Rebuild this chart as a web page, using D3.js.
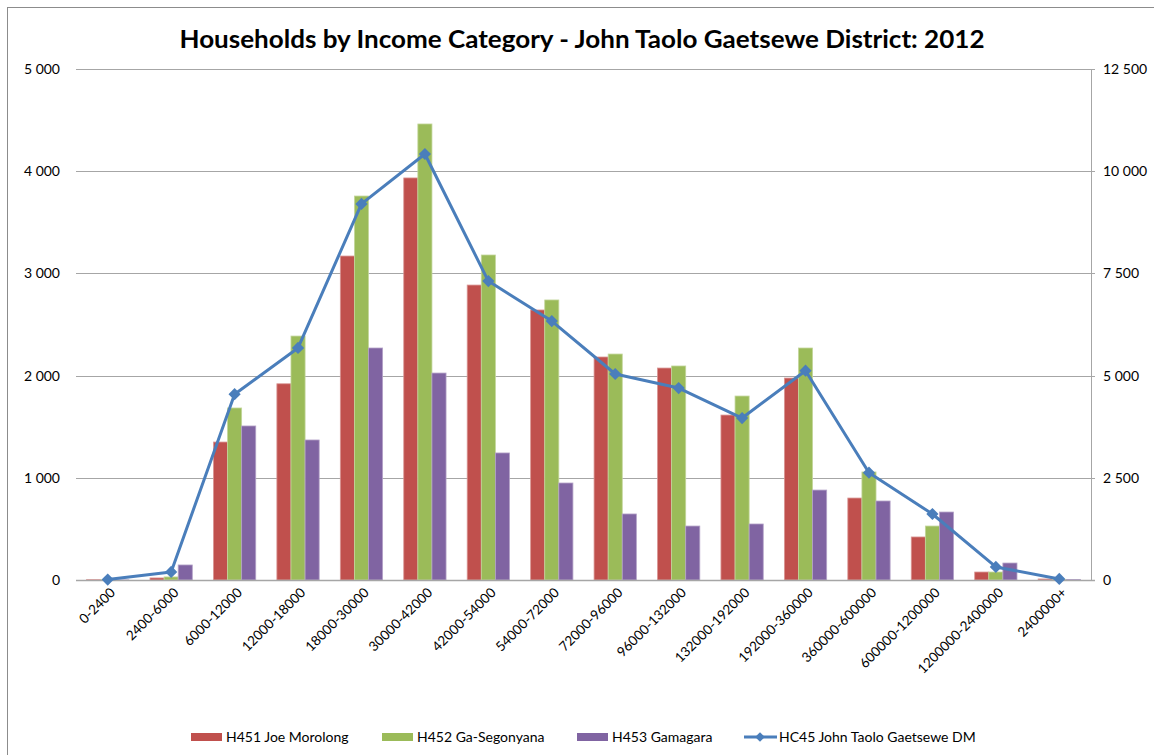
<!DOCTYPE html>
<html>
<head>
<meta charset="utf-8">
<script src="https://cdn.jsdelivr.net/npm/d3@7"></script>
<style>
  body { margin: 0; background: #fff; }
  svg { display: block; }
</style>
</head>
<body>
<div id="chart"></div>
<script>
// chart data
var categories = ['0-2400', '2400-6000', '6000-12000', '12000-18000', '18000-30000',
    '30000-42000', '42000-54000', '54000-72000', '72000-96000', '96000-132000',
    '132000-192000', '192000-360000', '360000-600000', '600000-1200000',
    '1200000-2400000', '2400000+'];

var seriesNames = ['H451 Joe Morolong', 'H452 Ga-Segonyana', 'H453 Gamagara'];
var lineName = 'HC45 John Taolo Gaetsewe DM';

var joeMorolong = [3, 20, 1350, 1920, 3170, 3934, 2886, 2642, 2182, 2074, 1614, 1976, 802, 421, 78, 10];
var gaSegonyana = [2, 30, 1683, 2387, 3757, 4462, 3180, 2740, 2211, 2094, 1800, 2270, 1057, 528, 78, 4];
var gamagara = [1, 147, 1507, 1370, 2270, 2025, 1243, 949, 646, 528, 548, 880, 773, 665, 166, 5];
var districtTotal = [10, 197, 4545, 5677, 9200, 10421, 7312, 6334, 5039, 4696, 3962, 5120, 2625, 1614, 320, 25];

var leftTicks = [0, 1000, 2000, 3000, 4000, 5000];
var rightTicks = [0, 2500, 5000, 7500, 10000, 12500];

var colors = ['#c0504d', '#9bbb59', '#8064a2'];
var edgeColors = ['#d99694', '#c3d69b', '#b3a2c7'];
var lineColor = '#4a7ebb';
var gridColor = '#a6a6a6';
var mainFont = 'Lato, "Open Sans", sans-serif';

var fullWidth = 1154;
var fullHeight = 755;

window.onload = function() {
    render();
};

function fmt(v) {
    // thousands separated by a space, like the reference
    return d3.format(',')(v).replace(/,/g, ' ');
}

function render() {
    var svg = d3.select('#chart').append('svg')
        .attr('width', fullWidth)
        .attr('height', fullHeight);

    // chart border
    svg.append('rect')
        .attr('x', 7.5)
        .attr('y', 7.5)
        .attr('width', 1170)
        .attr('height', 780)
        .attr('fill', 'none')
        .attr('stroke', '#8c8c8c')
        .attr('stroke-width', 1);

    svg.append('text')
        .attr('x', 582)
        .attr('y', 48)
        .attr('text-anchor', 'middle')
        .style('font-family', mainFont)
        .style('font-weight', 'bold')
        .style('font-size', '24px')
        .attr('textLength', 805)
        .attr('lengthAdjust', 'spacingAndGlyphs')
        .text('Households by Income Category - John Taolo Gaetsewe District: 2012');

    var plotLeft = 76, plotRight = 1091, plotTop = 69, plotBottom = 580;

    var x = d3.scaleBand()
        .domain(categories)
        .range([plotLeft, plotRight]);
    var bw = x.bandwidth();
    var gap = bw * 1.5 / 4.5;
    var xInner = d3.scaleBand()
        .domain(seriesNames)
        .range([gap / 2, bw - gap / 2]);

    var yLeft = d3.scaleLinear().domain([0, 5000]).range([plotBottom, plotTop]);
    var yRight = d3.scaleLinear().domain([0, 12500]).range([plotBottom, plotTop]);

    // gridlines
    svg.append('g')
        .selectAll('line')
        .data(leftTicks.slice(1))
        .enter().append('line')
        .attr('x1', plotLeft)
        .attr('x2', plotRight + 4)
        .attr('y1', function(d) { return Math.round(yLeft(d)) + 0.5; })
        .attr('y2', function(d) { return Math.round(yLeft(d)) + 0.5; })
        .attr('stroke', gridColor)
        .attr('stroke-width', 1);

    // left tick labels
    svg.append('g')
        .selectAll('text')
        .data(leftTicks)
        .enter().append('text')
        .attr('x', 60)
        .attr('y', function(d) { return yLeft(d); })
        .attr('dy', '0.35em')
        .attr('text-anchor', 'end')
        .style('font-family', mainFont)
        .style('font-size', '14px')
        .style('fill', '#000')
        .text(fmt);

    // right axis
    svg.append('line')
        .attr('x1', plotRight + 0.5)
        .attr('x2', plotRight + 0.5)
        .attr('y1', plotTop)
        .attr('y2', plotBottom)
        .attr('stroke', gridColor)
        .attr('stroke-width', 1);

    svg.append('g')
        .selectAll('text')
        .data(rightTicks)
        .enter().append('text')
        .attr('x', 1103)
        .attr('y', function(d) { return yRight(d); })
        .attr('dy', '0.35em')
        .attr('text-anchor', 'start')
        .style('font-family', mainFont)
        .style('font-size', '14px')
        .style('fill', '#000')
        .text(fmt);

    // bars
    var seriesData = [joeMorolong, gaSegonyana, gamagara];
    seriesData.forEach(function(values, s) {
        svg.append('g')
            .selectAll('rect')
            .data(values)
            .enter().append('rect')
            .attr('x', function(d, i) { return x(categories[i]) + xInner(seriesNames[s]); })
            .attr('y', function(d) { return yLeft(d); })
            .attr('width', xInner.bandwidth())
            .attr('height', function(d) { return plotBottom - yLeft(d); })
            .attr('fill', colors[s])
            .attr('stroke', edgeColors[s])
            .attr('stroke-width', 0.8);
    });

    // x axis line
    svg.append('line')
        .attr('x1', plotLeft)
        .attr('x2', plotRight + 4)
        .attr('y1', plotBottom + 0.5)
        .attr('y2', plotBottom + 0.5)
        .attr('stroke', gridColor)
        .attr('stroke-width', 1.5);

    // category labels
    svg.append('g')
        .selectAll('text')
        .data(categories)
        .enter().append('text')
        .attr('transform', function(d) {
            return 'translate(' + (x(d) + bw / 2 + 5) + ',' + 590 + ') rotate(-45)';
        })
        .attr('text-anchor', 'end')
        .attr('dy', '0.35em')
        .style('font-family', mainFont)
        .style('font-size', '13.5px')
        .style('fill', '#000')
        .text(function(d) { return d; });

    // district line
    var lineGen = d3.line()
        .x(function(d, i) { return x(categories[i]) + bw / 2; })
        .y(function(d) { return yRight(d); });

    svg.append('path')
        .attr('d', lineGen(districtTotal))
        .attr('fill', 'none')
        .attr('stroke', lineColor)
        .attr('stroke-width', 3)
        .attr('stroke-linejoin', 'round');

    var diamond = d3.symbol().type(d3.symbolDiamond2).size(95);
    svg.append('g')
        .selectAll('path')
        .data(districtTotal)
        .enter().append('path')
        .attr('d', diamond)
        .attr('transform', function(d, i) {
            return 'translate(' + (x(categories[i]) + bw / 2) + ',' + yRight(d) + ')';
        })
        .attr('fill', lineColor);

    makeLegend(svg);
}

function makeLegend(svg) {
    var legendY = 737;
    var items = [
        { name: seriesNames[0], color: colors[0], x: 191, type: 'bar' },
        { name: seriesNames[1], color: colors[1], x: 382, type: 'bar' },
        { name: seriesNames[2], color: colors[2], x: 577, type: 'bar' },
        { name: lineName, color: lineColor, x: 744, type: 'line' }
    ];

    items.forEach(function(e) {
        if (e.type === 'bar') {
            svg.append('rect')
                .attr('x', e.x)
                .attr('y', legendY - 4)
                .attr('width', 31)
                .attr('height', 8)
                .attr('fill', e.color);
        } else {
            svg.append('line')
                .attr('x1', e.x)
                .attr('x2', e.x + 33)
                .attr('y1', legendY)
                .attr('y2', legendY)
                .attr('stroke', e.color)
                .attr('stroke-width', 3);
            svg.append('path')
                .attr('d', d3.symbol().type(d3.symbolDiamond2).size(60))
                .attr('transform', 'translate(' + (e.x + 16) + ',' + legendY + ')')
                .attr('fill', e.color);
        }
        svg.append('text')
            .attr('x', e.x + 35)
            .attr('y', legendY)
            .attr('dy', '0.35em')
            .style('font-family', mainFont)
            .style('font-size', '14px')
            .style('fill', '#000')
            .text(e.name);
    });
}
</script>
</body>
</html>
